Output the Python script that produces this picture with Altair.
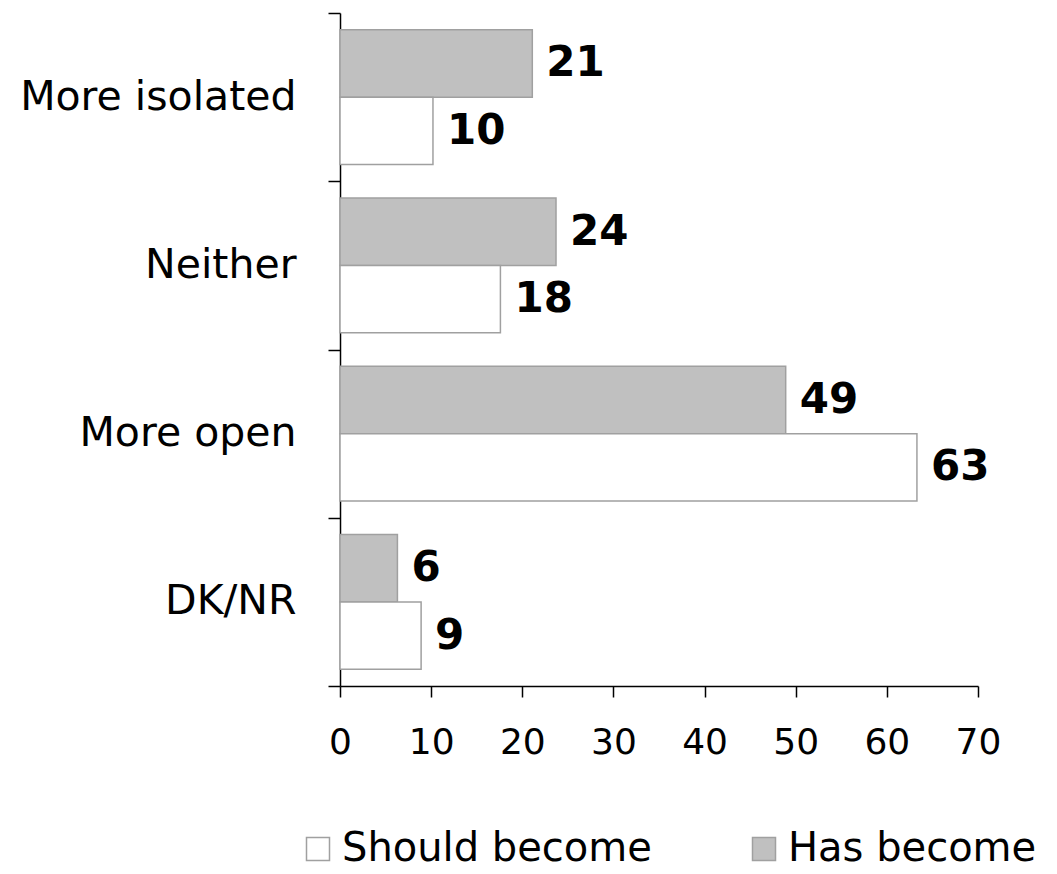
import altair as alt
import pandas as pd

categories = ["More isolated", "Neither", "More open", "DK/NR"]
series_order = ["Has become", "Should become"]
legend_order = ["Should become", "Has become"]
has_become = [21.1, 23.7, 48.9, 6.3]
should_become = [10.2, 17.6, 63.3, 8.9]
x_ticks = [0, 10, 20, 30, 40, 50, 60, 70]

rows = []
for c, h, s in zip(categories, has_become, should_become):
    rows.append({"category": c, "series": "Has become", "value": h})
    rows.append({"category": c, "series": "Should become", "value": s})
df = pd.DataFrame(rows)

FONT = "DejaVu Sans"

y_enc = alt.Y(
    "category:N",
    sort=categories,
    scale=alt.Scale(paddingInner=0, paddingOuter=0),
    axis=alt.Axis(
        title=None, tickBand="extent", labelFont=FONT, labelFontSize=41,
        labelColor="black", labelPadding=32, tickSize=12, tickColor="black",
        tickWidth=1.5, domainColor="black", domainWidth=1.5, labelLimit=400,
    ),
)
yoff_enc = alt.YOffset(
    "series:N", sort=series_order,
    scale=alt.Scale(paddingInner=0, paddingOuter=0.25),
)
x_enc = alt.X(
    "value:Q",
    scale=alt.Scale(domain=[0, 70], nice=False),
    axis=alt.Axis(
        title=None, values=x_ticks, grid=False, labelFont=FONT, labelFontSize=36,
        labelColor="black", labelPadding=28, tickSize=11, tickColor="black",
        tickWidth=1.5, domainColor="black", domainWidth=1.5, labelFlush=False,
    ),
)

bars = alt.Chart(df).mark_bar(stroke="#a0a0a0", strokeWidth=1.5).encode(
    x=x_enc,
    y=y_enc,
    yOffset=yoff_enc,
    color=alt.Color(
        "series:N",
        scale=alt.Scale(domain=legend_order, range=["#ffffff", "#c0c0c0"]),
        legend=alt.Legend(
            title=None, orient="none", legendX=-42, legendY=816,
            direction="horizontal", symbolType="square", symbolSize=529,
            symbolStrokeColor="#a0a0a0", symbolStrokeWidth=1.5,
            labelFont=FONT, labelFontSize=40, labelColor="black",
            labelOffset=4, columnPadding=92, padding=0, labelLimit=500,
            symbolOpacity=1,
        ),
    ),
)

labels = alt.Chart(df).mark_text(
    align="left", baseline="middle", dx=14, font=FONT, fontSize=42,
    fontWeight="bold", color="black",
).encode(
    x=alt.X("value:Q"),
    y=alt.Y("category:N", sort=categories),
    yOffset=alt.YOffset("series:N", sort=series_order),
    text=alt.Text("value:Q", format=".0f"),
)

chart = alt.layer(bars, labels).properties(
    width=638, height=673,
    autosize=alt.AutoSizeParams(type="none"),
    padding={"left": 332, "top": 5, "right": 68, "bottom": 186},
).configure_view(stroke=None)

chart.save("out.html", embed_options={"renderer": "svg", "actions": False})
